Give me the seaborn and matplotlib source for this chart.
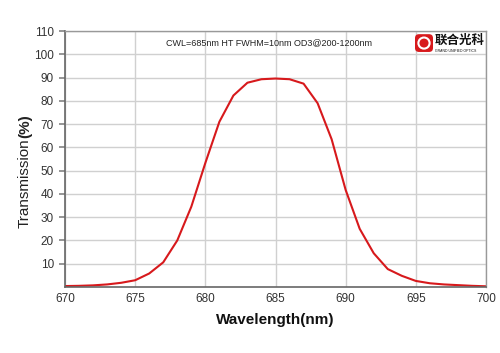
import matplotlib
matplotlib.use('Agg')
import matplotlib.pyplot as plt
from matplotlib.patches import FancyBboxPatch, Circle
import seaborn as sns
import pandas as pd

# --- data ---
wavelength = list(range(670, 701))
transmission = [0.4, 0.5, 0.7, 1.1, 1.8, 2.9, 5.8, 10.6, 20.0, 34.5, 53.3,
                71.0, 82.3, 87.8, 89.3, 89.6, 89.3, 87.4, 79.0, 63.5, 41.7,
                25.0, 14.5, 7.7, 4.8, 2.6, 1.6, 1.1, 0.8, 0.5, 0.3]
x_ticks = [670, 675, 680, 685, 690, 695, 700]
y_ticks = [10, 20, 30, 40, 50, 60, 70, 80, 90, 100, 110]
note = "CWL=685nm HT FWHM=10nm OD3@200-1200nm"

sns.set_theme(style="white")
plt.rcParams['font.family'] = ['Liberation Sans', 'Noto Sans CJK SC', 'DejaVu Sans']

df = pd.DataFrame({'wl': wavelength, 'T': transmission})

fig = plt.figure(figsize=(5, 3.53), dpi=100)
ax = fig.add_axes([0.13, 0.187, 0.842, 0.725])

sns.lineplot(data=df, x='wl', y='T', color='#d7191c', lw=1.5, ax=ax)

ax.set_xlim(670, 700)
ax.set_ylim(0, 110)
ax.set_xticks(x_ticks)
ax.set_yticks(y_ticks)
ax.grid(True, color='#d0d0d0', lw=1)
ax.tick_params(axis='both', labelsize=8.5, colors='#333333', length=0, pad=4)
ax.tick_params(axis='y', length=4, color='#888888', left=True)
for side in ['top', 'right']:
    ax.spines[side].set_color('#999999')
    ax.spines[side].set_linewidth(1)
for side in ['left', 'bottom']:
    ax.spines[side].set_color('#666666')
    ax.spines[side].set_linewidth(1.2)

ax.set_xlabel('Wavelength(nm)', fontsize=11, fontweight='bold', color='#111111', labelpad=6)
ax.set_ylabel('')

# y label: plain "Transmission" followed by bold "(%)"
t1 = fig.text(0.05, 1 - 228 / 353, 'Transmission', rotation=90, fontsize=11,
              color='#222222', ha='center', va='bottom')
fig.canvas.draw()
bb = t1.get_window_extent(renderer=fig.canvas.get_renderer())
fig.text(0.05, bb.y1 / fig.bbox.height, '(%)', rotation=90, fontsize=11,
         fontweight='bold', color='#222222', ha='center', va='bottom')

ax.text(0.24, 0.955, note, transform=ax.transAxes, fontsize=6.5, color='#222222',
        ha='left', va='center')

# logo
logo = fig.add_axes([0.828, 0.85, 0.04, 0.056])
logo.axis('off')
logo.set_xlim(0, 1)
logo.set_ylim(0, 1)
logo.add_patch(FancyBboxPatch((0.05, 0.05), 0.9, 0.9, boxstyle='round,pad=0,rounding_size=0.2',
                              fc='#d7191c', ec='none'))
logo.add_patch(Circle((0.5, 0.5), 0.28, fc='none', ec='white', lw=1.5))
fig.text(0.87, 0.885, '联合光科', fontsize=9, fontweight='bold', color='#111111',
         ha='left', va='center')
fig.text(0.87, 0.856, 'GRAND UNIFIED OPTICS', fontsize=2.5, color='#111111',
         ha='left', va='center')

fig.savefig('out.png', dpi=100)
